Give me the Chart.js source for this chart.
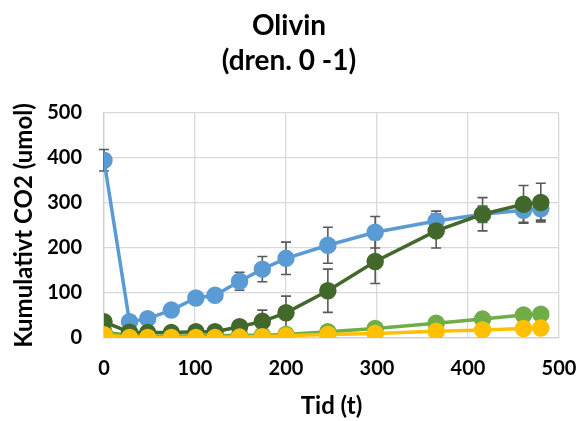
<!DOCTYPE html>
<html>
<head>
<meta charset="utf-8">
<script src="https://cdn.jsdelivr.net/npm/chart.js@4/dist/chart.umd.min.js"></script>
<style>
html,body{margin:0;padding:0;background:#fff;}
#wrap{width:578px;height:421px;}
</style>
</head>
<body>
<div id="wrap"><canvas id="chart"></canvas></div>
<script>
// tid (t)
const tid = [0, 28, 48, 74, 101, 122, 149, 174, 200, 246, 298, 365, 416, 461, 480];

const blaa      = [395, 36, 43, 62, 89, 95, 126, 153, 177, 206, 235, 260, 275, 284, 287];
const blaaErr   = [24, 0, 0, 0, 0, 0, 20, 28, 36, 40, 35, 22, 18, 27, 25];
const morkGronn = [36, 13, 12, 12, 14, 14, 25, 37, 56, 105, 170, 238, 275, 297, 301];
const morkErr   = [0, 0, 0, 0, 0, 0, 5, 25, 37, 48, 49, 38, 37, 42, 43];
const lysGronn  = [14, 5, 4, 4, 5, 5, 6, 6, 8, 14, 21, 33, 42, 51, 53];
const gul       = [7, 1, 1, 1, 1, 1, 2, 3, 5, 8, 10, 15, 18, 21, 22];

const xTicks = [0, 100, 200, 300, 400, 500];
const yTicks = [0, 100, 200, 300, 400, 500];

const font = "Lato";

function pts(vals){
    return vals.map((v,i)=>({x:tid[i], y:v}));
}

function serie(label, vals, color, err){
    return {
        label:label,
        data:pts(vals),
        err:err,
        borderColor:color,
        backgroundColor:color,
        pointBackgroundColor:color,
        pointBorderColor:color,
        pointRadius:7,
        pointHoverRadius:7,
        borderWidth:3.5,
        tension:0
    };
}

// error bars drawn under the markers, through the chart scales
const errorBars = {
    id:"errorBars",
    beforeDatasetsDraw(chart){
        const {ctx, scales:{x, y}} = chart;
        ctx.save();
        ctx.strokeStyle = "#595959";
        ctx.lineWidth = 1.6;
        chart.data.datasets.forEach(ds=>{
            if(!ds.err) return;
            ds.data.forEach((p,i)=>{
                const e = ds.err[i];
                if(!e) return;
                const px = x.getPixelForValue(p.x);
                const top = y.getPixelForValue(p.y + e);
                const bot = y.getPixelForValue(p.y - e);
                ctx.beginPath();
                ctx.moveTo(px, top); ctx.lineTo(px, bot);
                ctx.moveTo(px-5, top); ctx.lineTo(px+5, top);
                ctx.moveTo(px-5, bot); ctx.lineTo(px+5, bot);
                ctx.stroke();
            });
        });
        ctx.restore();
    }
};

const ctx = document.getElementById("chart");

new Chart(ctx,{
    type:"line",
    data:{
        datasets:[
            serie("Serie 4", gul, "#FFC000", null),
            serie("Serie 2", morkGronn, "#43682B", morkErr),
            serie("Serie 3", lysGronn, "#70AD47", null),
            serie("Serie 1", blaa, "#5B9BD5", blaaErr)
        ]
    },
    options:{
        responsive:true,
        maintainAspectRatio:false,
        animation:false,
        layout:{padding:0},
        plugins:{
            legend:{display:false},
            tooltip:{enabled:false},
            title:{
                display:true,
                text:["Olivin","(dren. 0 -1)"],
                color:"#000",
                font:{family:font, size:28, weight:"bold", lineHeight:1.25},
                padding:{top:8, bottom:35}
            }
        },
        scales:{
            x:{
                type:"linear",
                min:0,
                max:500,
                afterBuildTicks(axis){ axis.ticks = xTicks.map(v=>({value:v})); },
                afterFit(axis){ axis.height = 83; axis.paddingRight = 19; axis.paddingLeft = 0; },
                grid:{color:"#d9d9d9", lineWidth:1.3, drawTicks:false},
                border:{color:"#d0d0d0", width:1.3},
                ticks:{color:"#000", padding:19, font:{family:font, size:20, weight:"bold"}},
                title:{
                    display:true,
                    text:"Tid (t)",
                    color:"#000",
                    font:{family:font, size:24, weight:"bold"},
                    padding:{top:0, bottom:0}
                }
            },
            y:{
                min:0,
                max:500,
                afterBuildTicks(axis){ axis.ticks = yTicks.map(v=>({value:v})); },
                afterFit(axis){ axis.width = 104; },
                grid:{color:"#d9d9d9", lineWidth:1.3, drawTicks:false},
                border:{color:"#d0d0d0", width:1.3},
                ticks:{color:"#000", padding:22, font:{family:font, size:20, weight:"bold"}},
                title:{
                    display:true,
                    text:"Kumulativt CO2 (umol)",
                    color:"#000",
                    font:{family:font, size:24, weight:"bold"},
                    padding:{top:10, bottom:0}
                }
            }
        }
    },
    plugins:[errorBars]
});
</script>
</body>
</html>
